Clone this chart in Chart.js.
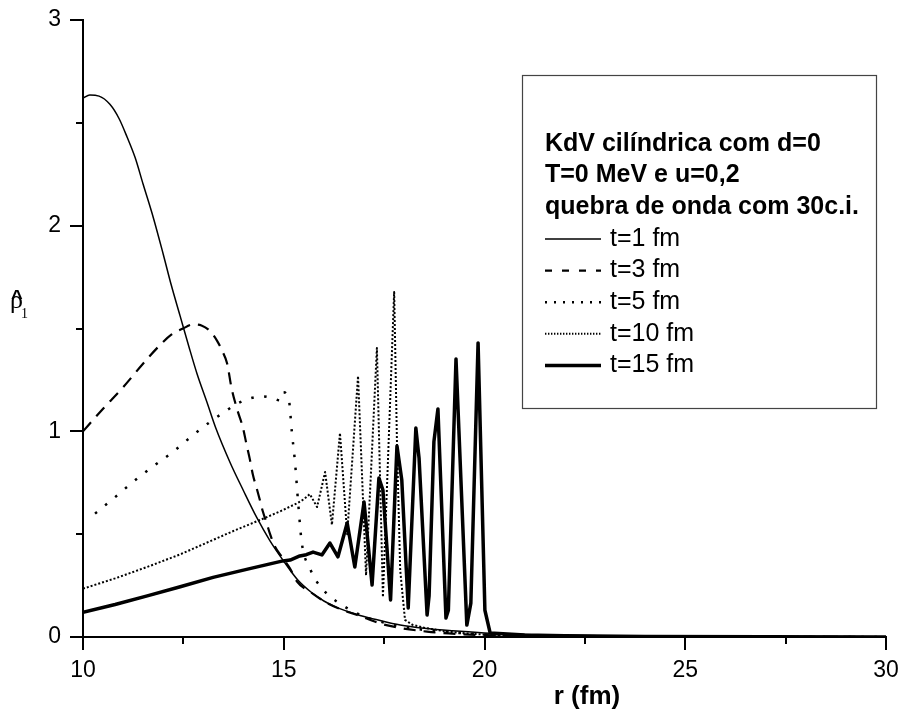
<!DOCTYPE html>
<html>
<head>
<meta charset="utf-8">
<title>KdV cilíndrica</title>
<script src="https://cdn.jsdelivr.net/npm/chart.js@4/dist/chart.umd.min.js"></script>
<style>
  html, body { margin: 0; padding: 0; background: #fff; }
</style>
</head>
<body>
<canvas id="canvas" width="919" height="713"></canvas>
<script>
// raio r (fm) e densidade para cada tempo
const r_t1 = [10.0, 10.17, 10.4, 10.67, 10.9, 11.1, 11.3, 11.5, 11.75, 12.0, 12.2, 12.42, 12.64, 12.84, 13.09, 13.3, 13.66, 14.0, 14.33, 14.65, 14.98, 15.35, 15.7, 16.0, 16.3, 16.65, 16.9, 17.3, 17.9, 18.5, 19.2, 20.0, 21.0, 22.0, 23.5, 25.0, 27.0, 30.0];
const rho_t1 = [2.62, 2.635, 2.63, 2.59, 2.52, 2.43, 2.33, 2.20, 2.04, 1.86, 1.71, 1.56, 1.41, 1.28, 1.14, 1.02, 0.85, 0.71, 0.58, 0.47, 0.374, 0.277, 0.215, 0.175, 0.145, 0.12, 0.105, 0.085, 0.058, 0.042, 0.03, 0.02, 0.012, 0.008, 0.005, 0.003, 0.0015, 0.0005];

const r_t3 = [10.0, 10.5, 11.0, 11.5, 11.92, 12.2, 12.49, 12.75, 12.95, 13.15, 13.34, 13.47, 13.59, 13.7, 13.85, 13.98, 14.08, 14.16, 14.23, 14.33, 14.4, 14.48, 14.58, 14.66, 14.78, 14.95, 15.15, 15.33, 15.73, 16.08, 16.48, 16.83, 17.47, 18.57, 19.5, 20.5, 22.0, 25.0, 30.0];
const rho_t3 = [1.0, 1.11, 1.215, 1.33, 1.42, 1.47, 1.50, 1.52, 1.515, 1.49, 1.44, 1.39, 1.33, 1.21, 1.10, 1.02, 0.93, 0.86, 0.79, 0.72, 0.67, 0.61, 0.55, 0.50, 0.44, 0.39, 0.335, 0.27, 0.21, 0.165, 0.13, 0.107, 0.062, 0.026, 0.013, 0.007, 0.003, 0.001, 0];

const r_t5 = [10.3, 10.8, 11.25, 11.75, 12.24, 12.7, 13.16, 13.49, 13.8, 14.16, 14.48, 14.75, 14.91, 14.98, 15.13, 15.2, 15.28, 15.36, 15.45, 15.65, 15.83, 16.08, 16.5, 17.0, 17.5, 18.0, 19.0, 20.0, 22.0, 25.0, 30.0];
const rho_t5 = [0.60, 0.68, 0.755, 0.83, 0.90, 0.975, 1.045, 1.09, 1.13, 1.16, 1.17, 1.16, 1.15, 1.19, 1.15, 1.0, 0.85, 0.65, 0.457, 0.335, 0.267, 0.21, 0.15, 0.10, 0.07, 0.048, 0.025, 0.013, 0.004, 0.001, 0];

const r_t10 = [10.0, 10.8, 11.59, 12.4, 13.24, 13.8, 14.41, 14.9, 15.35, 15.5, 15.65, 15.83, 16.03, 16.2, 16.4, 16.58, 16.85, 17.05, 17.32, 17.47, 17.75, 17.82, 17.9, 18.02, 18.2, 18.5, 19.0, 19.5, 20.0, 21.0, 23.0, 26.0, 30.0];
const rho_t10 = [0.235, 0.285, 0.34, 0.40, 0.472, 0.52, 0.569, 0.61, 0.652, 0.67, 0.695, 0.632, 0.802, 0.545, 0.992, 0.50, 1.269, 0.30, 1.405, 0.194, 1.677, 0.943, 0.326, 0.083, 0.06, 0.045, 0.028, 0.018, 0.012, 0.006, 0.002, 0.001, 0];

const r_t15 = [10.0, 10.8, 11.6, 12.4, 13.24, 14.1, 14.98, 15.16, 15.4, 15.56, 15.73, 15.95, 16.15, 16.35, 16.58, 16.77, 17.0, 17.2, 17.37, 17.47, 17.66, 17.82, 17.94, 18.1, 18.29, 18.37, 18.57, 18.62, 18.74, 18.84, 19.04, 19.1, 19.29, 19.56, 19.66, 19.84, 20.01, 20.14, 21.0, 22.0, 24.0, 27.0, 30.0];
const rho_t15 = [0.12, 0.158, 0.20, 0.243, 0.29, 0.33, 0.37, 0.374, 0.394, 0.40, 0.413, 0.399, 0.457, 0.39, 0.554, 0.34, 0.656, 0.253, 0.773, 0.715, 0.18, 0.929, 0.763, 0.141, 1.016, 0.87, 0.107, 0.2, 0.95, 1.109, 0.092, 0.13, 1.352, 0.058, 0.165, 1.43, 0.13, 0.02, 0.01, 0.006, 0.003, 0.001, 0];

const labels = ['t=1 fm', 't=3 fm', 't=5 fm', 't=10 fm', 't=15 fm'];
const legendTitle = ['KdV cilíndrica com d=0', 'T=0 MeV e u=0,2', 'quebra de onda com 30c.i.'];
const xTicks = [10, 15, 20, 25, 30];
const yTicks = [0, 1, 2, 3];

const sans = '"Liberation Sans", Arial, sans-serif';
const serif = '"Liberation Serif", "DejaVu Serif", serif';

function pts(xs, ys) {
  return xs.map((v, i) => ({ x: v, y: ys[i] }));
}

function line(label, xs, ys, width, dash, smooth) {
  return {
    label: label,
    data: pts(xs, ys),
    showLine: true,
    borderColor: '#000',
    borderWidth: width,
    borderDash: dash,
    borderCapStyle: 'butt',
    borderJoinStyle: 'round',
    pointRadius: 0,
    cubicInterpolationMode: smooth ? 'monotone' : 'default',
    tension: 0,
    fill: false
  };
}

const datasets = [
  line(labels[0], r_t1, rho_t1, 1.5, [], true),
  line(labels[1], r_t3, rho_t3, 2.2, [12, 8], true),
  line(labels[2], r_t5, rho_t5, 2.5, [2.5, 10.5], true),
  line(labels[3], r_t10, rho_t10, 2, [2, 2], false),
  line(labels[4], r_t15, rho_t15, 3.5, [], false)
];
// amostras da legenda
const legendDash = [[], [7, 10], [2, 7], [1.4, 1.6], []];

// marcas dos eixos, titulos e caixa de legenda
const extras = {
  id: 'extras',
  afterDraw(chart) {
    const { ctx, chartArea: a, scales: { x, y } } = chart;
    ctx.save();
    ctx.strokeStyle = '#000';
    ctx.lineWidth = 2;
    ctx.beginPath();
    x.ticks.forEach(t => {
      const px = Math.round(x.getPixelForValue(t.value));
      const len = xTicks.includes(t.value) ? 13 : 7;
      ctx.moveTo(px, a.bottom);
      ctx.lineTo(px, a.bottom + len);
    });
    y.ticks.forEach(t => {
      const py = Math.round(y.getPixelForValue(t.value));
      const len = yTicks.includes(t.value) ? 13 : 7;
      ctx.moveTo(a.left, py);
      ctx.lineTo(a.left - len, py);
    });
    ctx.stroke();

    // r (fm)
    ctx.fillStyle = '#000';
    ctx.font = 'bold 26px ' + sans;
    ctx.textAlign = 'center';
    ctx.textBaseline = 'middle';
    ctx.fillText('r (fm)', 587, 697);

    // rho chapeu 1
    ctx.textAlign = 'left';
    ctx.textBaseline = 'alphabetic';
    ctx.font = '26px ' + serif;
    ctx.fillText('ρ', 10, 308);
    ctx.font = 'bold 20px ' + sans;
    ctx.fillText('^', 11, 304);
    ctx.font = '14px ' + serif;
    ctx.fillText('1', 21, 318);

    // legenda
    const bx = 522, by = 75, bw = 354, bh = 333;
    ctx.fillStyle = '#fff';
    ctx.fillRect(bx, by, bw, bh);
    ctx.strokeStyle = '#444';
    ctx.lineWidth = 1.2;
    ctx.setLineDash([]);
    ctx.strokeRect(bx + 0.5, by + 0.5, bw, bh);

    ctx.fillStyle = '#000';
    ctx.textBaseline = 'middle';
    ctx.font = 'bold 25px ' + sans;
    legendTitle.forEach((s, i) => ctx.fillText(s, 545, 144 + i * 31.6));

    ctx.font = '25px ' + sans;
    chart.data.datasets.forEach((d, i) => {
      const yy = 239 + i * 31.6;
      ctx.strokeStyle = '#000';
      ctx.lineWidth = d.borderWidth;
      ctx.setLineDash(legendDash[i]);
      ctx.beginPath();
      ctx.moveTo(545, yy);
      ctx.lineTo(601, yy);
      ctx.stroke();
      ctx.fillText(d.label, 610, yy);
    });
    ctx.restore();
  }
};

const ctx = document.getElementById('canvas');
new Chart(ctx, {
  type: 'scatter',
  data: { datasets: datasets },
  options: {
    responsive: false,
    animation: false,
    devicePixelRatio: 1,
    layout: { padding: { left: 0, right: 33, top: 20, bottom: 0 } },
    plugins: {
      legend: { display: false },
      tooltip: { enabled: false }
    },
    scales: {
      x: {
        type: 'linear',
        min: 10,
        max: 30,
        border: { display: true, color: '#000', width: 2 },
        grid: { display: false, drawTicks: false },
        ticks: {
          stepSize: 2.5,
          padding: 20,
          color: '#000',
          font: { family: sans, size: 23 },
          callback: v => xTicks.includes(v) ? String(v) : ''
        },
        afterFit(s) { s.height = 76; }
      },
      y: {
        type: 'linear',
        min: 0,
        max: 3,
        border: { display: true, color: '#000', width: 2 },
        grid: { display: false, drawTicks: false },
        ticks: {
          stepSize: 0.5,
          padding: 22,
          color: '#000',
          font: { family: sans, size: 23 },
          callback: v => yTicks.includes(v) ? String(v) : ''
        },
        afterFit(s) {
          s.width = 83;
          s.paddingTop = 10;
          s.paddingBottom = 10;
        }
      }
    }
  },
  plugins: [extras]
});
</script>
</body>
</html>
